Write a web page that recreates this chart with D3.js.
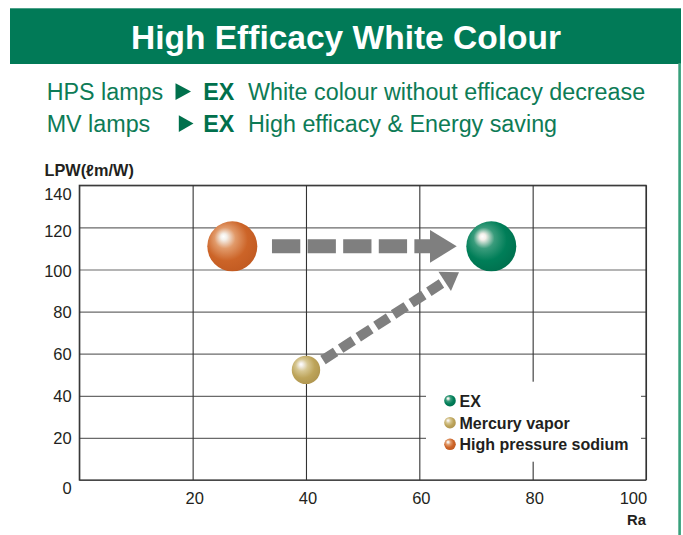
<!DOCTYPE html>
<html>
<head>
<meta charset="utf-8">
<script src="https://cdn.jsdelivr.net/npm/d3@7"></script>
<style>
  html, body { margin: 0; padding: 0; background: #fff; }
  svg { display: block; font-family: "Liberation Sans", Arial, Helvetica, sans-serif; }
</style>
</head>
<body>
<div id="chart"></div>
<script>
// ---------- data ----------
const titleText = "High Efficacy White Colour";
const subFrom = ["HPS lamps", "MV lamps"];
const subTo = ["EX", "EX"];
const subDesc = ["White colour without efficacy decrease", "High efficacy & Energy saving"];

const lampNames = ["EX", "Mercury vapor", "High pressure sodium"];
const lampRa = [72.7, 40, 27];          // colour rendering index (x)
const lampLPW = [111, 52.3, 111];        // efficacy lm/W (y)

const arrowFromRa = [34, 43];
const arrowFromLPW = [111, 57];
const arrowToRa = [66.6, 67];
const arrowToLPW = [111, 98.7];

const xTicks = [0, 20, 40, 60, 80, 100];
const xTickLabels = ["", "20", "40", "60", "80", "100"];
const yTicks = [0, 20, 40, 60, 80, 100, 120, 140];
const yTickLabels = ["0", "20", "40", "60", "80", "100", "120", "140"];
const yAxisTitle = "LPW(\u2113m/W)";
const xAxisTitle = "Ra";

// ---------- styles ----------
const W = 683, H = 535;
const green = "#017a57";
const textGreen = "#0d7b56";
const sphereColors = {
  "EX": { base: "#007e58", mid: "#3a9c7c", edge: "#00714f" },
  "Mercury vapor": { base: "#bda45a", mid: "#d6c691", edge: "#b09650" },
  "High pressure sodium": { base: "#cc6428", mid: "#e19a6a", edge: "#c25b22" }
};
const sphereR = { "EX": 25, "Mercury vapor": 14.2, "High pressure sodium": 25 };

const svg = d3.select("#chart").append("svg").attr("width", W).attr("height", H);
svg.append("rect").attr("width", W).attr("height", H).attr("fill", "#fff");

// gradients
const defs = svg.append("defs");
lampNames.forEach((n, i) => {
  const c = sphereColors[n];
  const g = defs.append("radialGradient").attr("id", "grad" + i)
    .attr("cx", "42%").attr("cy", "40%").attr("r", "62%")
    .attr("fx", "32%").attr("fy", "30%");
  g.append("stop").attr("offset", "0%").attr("stop-color", "#ffffff");
  g.append("stop").attr("offset", "10%").attr("stop-color", "#f4f0ea");
  g.append("stop").attr("offset", "34%").attr("stop-color", c.mid);
  g.append("stop").attr("offset", "68%").attr("stop-color", c.base);
  g.append("stop").attr("offset", "100%").attr("stop-color", c.edge);
});

// ---------- header ----------
svg.append("rect").attr("x", 10).attr("y", 8.3).attr("width", 671).attr("height", 55.7).attr("fill", green);
svg.append("rect").attr("x", 678.3).attr("y", 63).attr("width", 2.6).attr("height", H - 63).attr("fill", "#38a07b");
svg.append("text").attr("x", 346).attr("y", 49).attr("text-anchor", "middle")
  .attr("fill", "#fff").attr("font-weight", "bold").attr("font-size", 33.5).text(titleText);

const subBase = [100, 132];
const triX = [[175.5, 191], [178.8, 193.5]];
subFrom.forEach((s, i) => {
  const b = subBase[i];
  svg.append("text").attr("x", 46.7).attr("y", b).attr("fill", textGreen).attr("font-size", 23.3).text(s);
  const [x0, x1] = triX[i];
  svg.append("path").attr("d", `M${x0},${b - 16.8}L${x1},${b - 8.4}L${x0},${b}Z`).attr("fill", "#00704c");
  svg.append("text").attr("x", 203.3).attr("y", b).attr("fill", "#00704c").attr("font-weight", "bold").attr("font-size", 23.3).text(subTo[i]);
  svg.append("text").attr("x", 248).attr("y", b).attr("fill", textGreen).attr("font-size", 23.3).text(subDesc[i]);
});

// ---------- chart ----------
const x = d3.scaleLinear().domain([0, 100]).range([79.3, 646]);
const y = d3.scaleLinear().domain([0, 140]).range([480, 185.3]);
const plotW = x(100) - x(0), plotH = y(0) - y(140);

// horizontal grid + y labels
const gy = svg.append("g").attr("transform", `translate(${x(0)},0)`)
  .call(d3.axisLeft(y).tickValues(yTicks).tickSize(-plotW).tickFormat((d, i) => yTickLabels[i]));
gy.select(".domain").remove();
gy.selectAll(".tick line").attr("stroke", "#6a6a6a").attr("stroke-width", 1.2);
gy.selectAll(".tick text")
  .attr("x", -7.6)
  .attr("dy", d => (d === 0 ? 8 : d === 140 ? 8 : d === 120 ? 3.3 : d === 100 ? 1.3 : 0) + 5.8)
  .attr("fill", "#231f20").attr("font-size", 16.5)
  .attr("font-family", "Liberation Sans, Arial, sans-serif");

// vertical grid + x labels
const gx = svg.append("g").attr("transform", `translate(0,${y(0)})`)
  .call(d3.axisBottom(x).tickValues(xTicks).tickSize(-plotH).tickFormat((d, i) => xTickLabels[i]));
gx.select(".domain").remove();
gx.selectAll(".tick line").attr("stroke", "#333").attr("stroke-width", 1.1);
gx.selectAll(".tick text")
  .attr("y", 23.5).attr("dy", 0)
  .attr("text-anchor", d => d === 100 ? "end" : "middle")
  .attr("x", d => d === 100 ? 0.7 : 1.5)
  .attr("fill", "#231f20").attr("font-size", 16.5)
  .attr("font-family", "Liberation Sans, Arial, sans-serif");

// frame
svg.append("rect").attr("x", x(0)).attr("y", y(140)).attr("width", plotW).attr("height", plotH)
  .attr("fill", "none").attr("stroke", "#333").attr("stroke-width", 1.2);

// axis titles
svg.append("text").attr("x", 44.5).attr("y", 175.7).attr("font-weight", "bold").attr("font-size", 16.3)
  .attr("fill", "#231f20").text(yAxisTitle);
svg.append("text").attr("x", 646).attr("y", 525).attr("text-anchor", "end").attr("font-weight", "bold")
  .attr("font-size", 14.8).attr("fill", "#231f20").text(xAxisTitle);

// legend box (covers grid)
svg.append("rect").attr("x", 426).attr("y", 381.7).attr("width", 215).attr("height", 80).attr("fill", "#fff");
const legY = [400.7, 422.7, 444.3];
lampNames.forEach((n, i) => {
  svg.append("circle").attr("cx", 450).attr("cy", legY[i]).attr("r", 5.8).attr("fill", `url(#grad${i})`);
  svg.append("text").attr("x", 459.5).attr("y", legY[i] + 5.8).attr("font-weight", "bold")
    .attr("font-size", 16).attr("fill", "#231f20").text(n);
});

// arrows
const arrowStyle = [
  { sw: 14, dash: "28.3,7.3", headLen: 26.7, headW: 32.7 },
  { sw: 10, dash: "15,6", headLen: 17, headW: 23 }
];
arrowFromRa.forEach((_, i) => {
  const x0 = x(arrowFromRa[i]), y0 = y(arrowFromLPW[i]);
  const x1 = x(arrowToRa[i]), y1 = y(arrowToLPW[i]);
  const st = arrowStyle[i];
  const dx = x1 - x0, dy = y1 - y0, L = Math.hypot(dx, dy);
  const ux = dx / L, uy = dy / L, px = -uy, py = ux;
  const bx = x1 - ux * st.headLen, by = y1 - uy * st.headLen;
  svg.append("line").attr("x1", x0).attr("y1", y0)
    .attr("x2", bx + ux * 1).attr("y2", by + uy * 1)
    .attr("stroke", "#7f7f7f").attr("stroke-width", st.sw).attr("stroke-dasharray", st.dash);
  svg.append("path")
    .attr("d", `M${x1},${y1}L${bx + px * st.headW / 2},${by + py * st.headW / 2}L${bx - px * st.headW / 2},${by - py * st.headW / 2}Z`)
    .attr("fill", "#7f7f7f");
});

// spheres
svg.append("g").selectAll("circle").data(lampNames).join("circle")
  .attr("cx", (d, i) => x(lampRa[i]))
  .attr("cy", (d, i) => y(lampLPW[i]))
  .attr("r", d => sphereR[d])
  .attr("fill", (d, i) => `url(#grad${i})`);
</script>
</body>
</html>
